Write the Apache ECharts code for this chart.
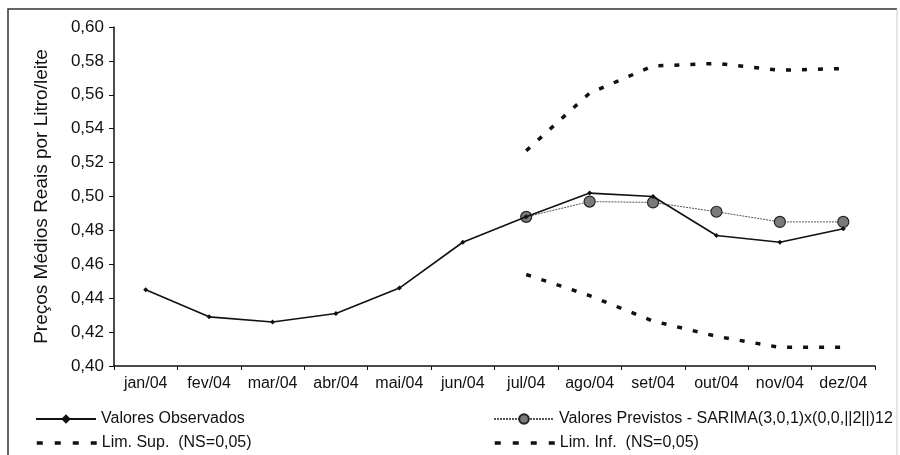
<!DOCTYPE html>
<html>
<head>
<meta charset="utf-8">
<script src="https://cdn.jsdelivr.net/npm/echarts@6/dist/echarts.min.js"></script>
<style>
  html, body { margin: 0; padding: 0; background: #fff; }
  #chart { width: 900px; height: 455px; }
</style>
</head>
<body>
<div id="chart"></div>
<script>
// Months of 2004
const months = ['jan/04', 'fev/04', 'mar/04', 'abr/04', 'mai/04', 'jun/04',
                'jul/04', 'ago/04', 'set/04', 'out/04', 'nov/04', 'dez/04'];

// Observed average real prices (R$ per litre)
const observados = [0.445, 0.429, 0.426, 0.431, 0.446, 0.473,
                    0.488, 0.502, 0.500, 0.477, 0.473, 0.481];

// SARIMA forecasts (jul-dez)
const previstos = [null, null, null, null, null, null,
                   0.488, 0.497, 0.4965, 0.491, 0.485, 0.485];

// Confidence limits, NS = 0,05
const limSup = [null, null, null, null, null, null,
                0.527, 0.561, 0.577, 0.5785, 0.5745, 0.5755];
const limInf = [null, null, null, null, null, null,
                0.454, 0.4415, 0.4265, 0.4175, 0.411, 0.411];

// Y-axis ticks
const yMin = 0.40, yMax = 0.60, yStep = 0.02;

const nameObs = 'Valores Observados';
const namePrev = 'Valores Previstos - SARIMA(3,0,1)x(0,0,||2||)12';
const nameSup = 'Lim. Sup.  (NS=0,05)';
const nameInf = 'Lim. Inf.  (NS=0,05)';

const font = 'Arial, "Liberation Sans", sans-serif';
const legendText = { fontFamily: font, fontSize: 16, color: '#111' };
const limDash = [5, 11];

function legendAt(name, left, top, dashed) {
  const lg = {
    data: [name], left: left, top: top, orient: 'horizontal',
    itemWidth: 60, itemHeight: 12, itemGap: 4, padding: 0,
    textStyle: legendText, selectedMode: false
  };
  if (dashed) {
    // dashed limits: thick dashed line only, no marker in the key
    lg.itemStyle = { opacity: 0 };
    lg.lineStyle = { width: 3.5, type: [6, 12], color: '#111' };
  }
  return lg;
}

const chart = echarts.init(document.getElementById('chart'), null, { renderer: 'canvas' });

chart.setOption({
  animation: false,
  backgroundColor: '#fff',
  grid: { left: 114, right: 25, top: 27, bottom: 89 },
  graphic: [
    {
      type: 'polyline',
      shape: { points: [[8, 460], [8, 9], [897, 9]] },
      style: { fill: 'none', stroke: '#333', lineWidth: 1.5 },
      silent: true
    },
    {
      type: 'line',
      shape: { x1: 897, y1: 9, x2: 897, y2: 460 },
      style: { stroke: '#ccc', lineWidth: 1 },
      silent: true
    }
  ],
  legend: [
    legendAt(nameObs, 35, 411, false),
    legendAt(namePrev, 493, 411, false),
    legendAt(nameSup, 35, 435, true),
    legendAt(nameInf, 493, 435, true)
  ],
  xAxis: {
    type: 'category',
    data: months,
    boundaryGap: true,
    axisLine: { lineStyle: { color: '#111', width: 1.5 } },
    axisTick: { show: true, alignWithLabel: false, length: 4, lineStyle: { color: '#111' } },
    axisLabel: { fontFamily: font, fontSize: 16, color: '#111', margin: 10, interval: 0 },
    splitLine: { show: false }
  },
  yAxis: {
    type: 'value',
    min: yMin, max: yMax, interval: yStep,
    name: 'Preços Médios Reais por Litro/leite',
    nameLocation: 'middle',
    nameGap: 63,
    nameTextStyle: { fontFamily: font, fontSize: 19, color: '#111' },
    axisLine: { show: true, lineStyle: { color: '#111', width: 1.5 } },
    axisTick: { show: true, length: 5, lineStyle: { color: '#111' } },
    axisLabel: {
      fontFamily: font, fontSize: 17, color: '#111', margin: 10,
      formatter: v => v.toFixed(2).replace('.', ',')
    },
    splitLine: { show: false }
  },
  series: [
    {
      name: nameObs, type: 'line', data: observados,
      symbol: 'diamond', symbolSize: 5, showSymbol: true,
      itemStyle: { color: '#111' },
      lineStyle: { color: '#111', width: 1.6 },
      z: 4
    },
    {
      name: namePrev, type: 'line', data: previstos,
      symbol: 'circle', symbolSize: 11,
      itemStyle: { color: '#7a7a7a', borderColor: '#222', borderWidth: 1.2 },
      lineStyle: { color: '#555', width: 1, type: [2, 1] },
      z: 3
    },
    {
      name: nameSup, type: 'line', data: limSup,
      symbol: 'none', showSymbol: false,
      itemStyle: { color: '#111' },
      lineStyle: { color: '#111', width: 3.5, type: limDash },
      z: 2
    },
    {
      name: nameInf, type: 'line', data: limInf,
      symbol: 'none', showSymbol: false,
      itemStyle: { color: '#111' },
      lineStyle: { color: '#111', width: 3.5, type: limDash },
      z: 2
    }
  ]
});
</script>
</body>
</html>
